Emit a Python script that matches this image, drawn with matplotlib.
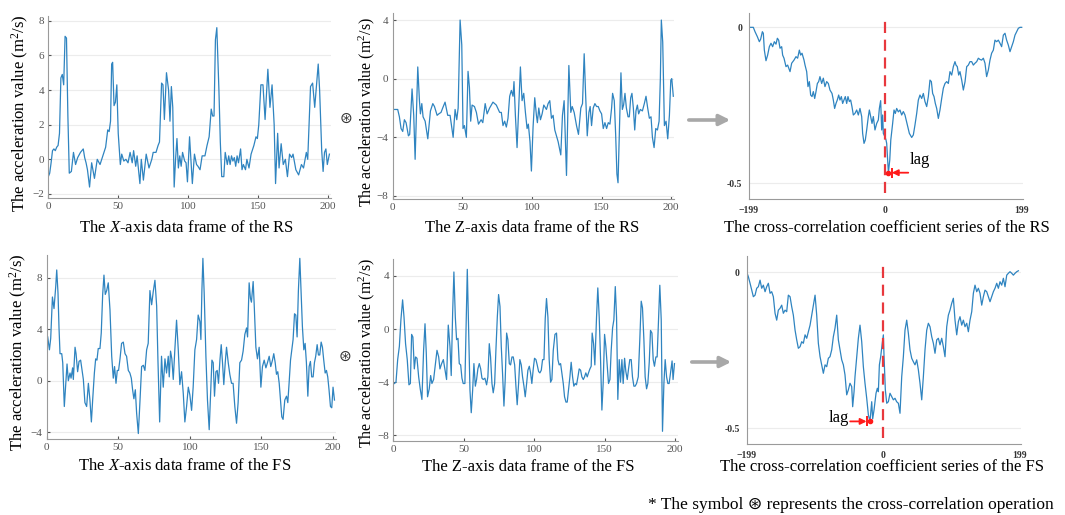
import numpy as np
import matplotlib
matplotlib.use("Agg")
import matplotlib.pyplot as plt
from matplotlib.patches import FancyArrowPatch

plt.rcParams['font.family'] = ['Liberation Serif', 'DejaVu Sans']
plt.rcParams['mathtext.fontset'] = 'custom'
plt.rcParams['mathtext.rm'] = 'Liberation Serif'
plt.rcParams['mathtext.it'] = 'Liberation Serif:italic'

# X-axis frame, RS (frame index, acceleration)
rs_x_t = [0, 1, 2, 3, 4, 5, 6, 7, 8, 9,
          10, 11, 12, 13, 14, 15, 16.5, 18, 19.5, 21,
          23, 25, 26, 27, 28, 29.5, 31, 33, 35, 37,
          39, 41, 42.5, 43.5, 44.5, 45.3, 46, 47, 48, 49,
          50, 51.5, 52.5, 54, 55.5, 57, 58.5, 60, 61, 62.5,
          63.5, 65.5, 66.5, 68, 70, 72, 74, 75, 77, 78.5,
          79.5, 81, 82, 83, 84.5, 86, 87, 88, 89, 90,
          91, 92, 93, 94, 95, 96, 97.5, 98.5, 99.5, 101,
          103, 104.5, 106, 107, 108.5, 110, 112, 113.5, 115, 116.5,
          117.5, 118.5, 119.5, 120.5, 122, 123, 124, 125.5, 126.5, 128,
          129, 130, 131, 132, 133, 134, 135, 136, 137.5, 138.5,
          139.5, 141, 142, 143.5, 145, 147, 148.5, 149.5, 150.5, 152,
          153.5, 155, 157, 158.5, 160, 161.5, 162.5, 164, 165, 166.5,
          168, 169.5, 171, 172.5, 174, 175, 177, 179, 181, 182.5,
          184.5, 185.5, 187.5, 189, 190.5, 193, 194, 195.5, 196.5, 197.5,
          198.5, 199.5, 201]
rs_x_a = [-1.0, -0.8, -0.2, 0.5, 0.6, 0.5, 0.7, 0.8, 1.5, 4.7,
          4.9, 4.3, 7.1, 7.0, 2.5, -0.8, -0.7, 0.4, -0.3, 0.1,
          0.4, 0.6, 0.1, -0.2, -0.6, -1.6, -0.2, -1.1, 0.0, -0.3,
          0.2, 0.7, 1.7, 1.6, 2.2, 5.5, 5.6, 3.1, 3.3, 4.3,
          1.5, -0.3, 0.3, -0.1, 0.0, -0.2, 0.4, -0.2, 0.5, -0.4,
          0.2, -1.4, 0.0, -1.2, 0.3, -0.5, 0.0, 0.4, 0.4, 0.8,
          1.0, 4.4, 4.3, 2.3, 5.0, 4.0, 2.2, 4.2, 3.0, -1.6,
          0.0, 1.2, -0.5, 0.2, -0.4, 0.4, -0.1, -0.2, -1.3, 1.3,
          -1.4, 0.3, -0.3, -0.4, -0.6, 0.2, 0.2, 0.8, 1.3, 2.9,
          2.5, 2.5, 6.9, 7.6, 4.0, 1.0, -1.0, -1.0, 0.4, -0.3,
          0.2, -0.3, 0.2, -0.1, 0.1, -0.4, 0.2, -0.2, 0.6, -0.6,
          -0.3, -0.6, 0.0, -0.5, 0.3, 0.8, 1.3, 1.2, 2.0, 4.3,
          4.3, 2.3, 5.2, 3.0, 4.3, 2.0, -1.4, 1.5, -0.5, 0.9,
          -0.3, 0.0, -1.0, 0.3, 0.1, 0.3, -0.6, -0.9, -0.3, -0.5,
          0.4, 0.0, 4.2, 4.4, 3.0, 5.5, 4.0, 0.5, -0.7, 0.4,
          0.6, -0.3, 0.3]

# Z-axis frame, RS
rs_z_t = [0.7, 3.6, 4.8, 6, 7.2, 8.4, 9.6, 11.3, 12.2, 13.9,
          15.1, 16.1, 18, 19.2, 19.9, 20.9, 21.8, 23.3, 25.2, 27.1,
          28.8, 30, 31.9, 33.1, 34.7, 35.9, 37.6, 39.5, 41.2, 43.4,
          44.8, 46, 47, 48.4, 49.6, 50.5, 51.5, 52.9, 54.1, 55.1,
          56, 57, 58.7, 60.1, 61.6, 63.5, 64.7, 66.4, 67.8, 69.6,
          72, 74.4, 76.8, 78, 79.2, 80.4, 81.6, 82.8, 84, 85.2,
          86.4, 87.1, 88.1, 89.3, 90.5, 91.7, 92.9, 94.1, 95.3, 96.5,
          97.4, 98.6, 99.6, 100.8, 102, 103.2, 103.9, 104.9, 106.1, 107.3,
          108.5, 110.4, 111.6, 112.8, 114, 115.2, 116.4, 118.8, 120.7, 121.9,
          123.1, 124.8, 126.5, 127.9, 128.9, 130.3, 132, 133.4, 135.1, 136.3,
          137.5, 138.5, 139.7, 140.9, 141.8, 142.8, 144, 145.2, 146.4, 147.6,
          148.8, 150, 151.2, 152.4, 153.6, 154.8, 156, 157.2, 157.9, 159.1,
          160.1, 161, 161.8, 162.7, 163.9, 164.9, 165.8, 166.8, 167.8, 169,
          169.9, 170.9, 171.8, 172.8, 173.8, 174.7, 175.7, 176.6, 177.8, 179.3,
          180.7, 181.9, 183.1, 184.3, 185.5, 186.5, 187.7, 188.9, 190.1, 191.3,
          192.2, 192.9, 193.9, 195.1, 196.3, 197.5, 198.7, 199.7, 200.4, 201.5]
rs_z_a = [-2.1, -2.1, -2.6, -3.4, -3.6, -2.8, -3.0, -3.9, -3.8, -0.7,
          -2.5, -5.5, 0.8, -1.5, -2.4, -1.7, -2.6, -2.9, -4.1, -2.2,
          -1.7, -1.9, -2.5, -2.4, -2.3, -2.0, -1.6, -2.5, -2.5, -4.0,
          -2.1, -2.8, -2.0, 4.0, 2.3, -3.4, -3.2, -4.0, 0.5, -0.6,
          -2.9, -1.8, -1.9, -2.3, -3.1, -2.8, -3.0, -1.7, -2.4, -2.0,
          -1.6, -1.8, -2.3, -2.3, -3.2, -2.9, -3.3, -2.7, -1.2, -0.8,
          -1.2, -0.2, -2.5, -4.7, -2.0, 0.8, -1.5, -1.0, -2.3, -3.4,
          -3.1, -4.3, -6.3, -3.3, -1.3, -2.5, -3.0, -2.0, -2.8, -2.4,
          -1.8, -2.1, -1.7, -1.5, -2.7, -2.5, -3.5, -4.3, -5.2, -2.5,
          -1.5, -6.6, 0.9, -2.3, -1.9, -2.3, -3.2, -3.8, -2.0, -1.7,
          1.7, -1.0, -3.9, -2.3, -1.9, -3.2, -2.0, -1.7, -1.9, -1.9,
          -2.2, -2.4, -3.4, -3.0, -3.4, -3.0, -3.1, -2.0, -1.0, -1.5,
          -3.8, -6.5, -7.1, -4.0, 0.4, -2.1, -1.8, -1.0, -2.0, -2.6,
          -2.6, -1.3, -1.0, -2.0, -3.5, -2.2, -1.8, -2.4, -2.1, -2.2,
          -1.7, -1.2, -2.0, -2.7, -2.6, -4.0, -4.7, -3.4, -3.5, -2.9,
          0.0, 4.0, 2.5, -3.2, -2.9, -4.1, -2.5, -0.1, 0.0, -1.2]

# cross-correlation coefficients, RS
rs_lag = [-199.0, -192.7, -190.2, -186.8, -183.9, -182.0, -179.5, -178.1, -176.6, -174.2,
          -171.8, -169.3, -166.9, -164.5, -162.0, -159.6, -157.6, -155.7, -153.7, -151.3,
          -149.9, -147.9, -145.0, -142.6, -139.1, -136.7, -133.3, -130.4, -128.0, -125.5,
          -123.6, -121.6, -118.7, -117.2, -114.8, -112.9, -110.9, -109.0, -107.0, -105.1,
          -103.1, -101.2, -99.2, -97.3, -95.4, -92.9, -90.5, -88.1, -85.6, -83.2,
          -80.8, -77.8, -75.9, -74.0, -72.0, -70.1, -68.1, -66.2, -64.2, -62.3,
          -60.3, -58.4, -56.4, -54.5, -52.5, -50.6, -48.7, -46.7, -44.3, -41.8,
          -39.4, -37.0, -34.5, -33.1, -31.1, -29.2, -27.2, -24.8, -23.3, -20.9,
          -19.4, -17.5, -15.1, -12.6, -10.2, -8.7, -6.8, -5.3, -3.9, -2.9,
          -0.5, 1.0, 2.0, 4.5, 6.5, 8.0, 10.7, 12.7, 14.6, 16.6,
          19.0, 21.4, 23.9, 26.3, 28.7, 32.1, 35.1, 38.5, 40.9, 43.3,
          45.8, 48.2, 50.6, 53.1, 55.5, 57.9, 60.4, 62.8, 65.2, 67.2,
          69.1, 71.1, 73.0, 75.0, 77.4, 79.8, 82.3, 84.7, 87.1, 89.6,
          92.0, 94.4, 96.9, 99.3, 101.7, 103.2, 105.1, 107.1, 109.0, 111.5,
          113.9, 116.4, 118.8, 121.2, 123.6, 126.1, 128.5, 130.9, 133.4, 135.8,
          138.2, 140.6, 143.1, 145.5, 147.9, 150.4, 152.8, 155.2, 157.7, 160.1,
          162.5, 165.0, 167.4, 169.8, 172.3, 174.7, 177.1, 179.6, 182.0, 184.4,
          186.9, 189.3, 191.7, 194.2, 196.6, 199.0]
rs_cc = [0.0, 0.0, -0.014, -0.030, -0.046, -0.038, -0.014, -0.019, -0.073, -0.107,
         -0.089, -0.062, -0.051, -0.062, -0.046, -0.054, -0.035, -0.041, -0.067, -0.062,
         -0.089, -0.099, -0.126, -0.121, -0.142, -0.115, -0.105, -0.094, -0.099, -0.073,
         -0.089, -0.083, -0.105, -0.121, -0.142, -0.190, -0.174, -0.217, -0.222, -0.206,
         -0.228, -0.206, -0.180, -0.174, -0.158, -0.180, -0.163, -0.190, -0.174, -0.180,
         -0.201, -0.212, -0.233, -0.260, -0.244, -0.233, -0.217, -0.233, -0.222, -0.244,
         -0.233, -0.222, -0.244, -0.222, -0.238, -0.233, -0.254, -0.281, -0.276, -0.265,
         -0.281, -0.260, -0.286, -0.340, -0.372, -0.361, -0.329, -0.286, -0.265, -0.292,
         -0.308, -0.286, -0.329, -0.308, -0.297, -0.260, -0.235, -0.329, -0.281, -0.340,
         -0.351, -0.361, -0.372, -0.466, -0.425, -0.361, -0.308, -0.265, -0.276, -0.260,
         -0.271, -0.265, -0.281, -0.270, -0.281, -0.313, -0.340, -0.353, -0.345, -0.313,
         -0.276, -0.233, -0.217, -0.228, -0.212, -0.238, -0.254, -0.222, -0.169, -0.174,
         -0.212, -0.222, -0.244, -0.260, -0.292, -0.265, -0.228, -0.195, -0.180, -0.174,
         -0.180, -0.142, -0.153, -0.126, -0.110, -0.121, -0.126, -0.153, -0.142, -0.169,
         -0.201, -0.174, -0.126, -0.121, -0.110, -0.110, -0.121, -0.115, -0.110, -0.099,
         -0.103, -0.105, -0.099, -0.115, -0.158, -0.137, -0.105, -0.083, -0.073, -0.041,
         -0.046, -0.041, -0.051, -0.062, -0.025, -0.019, -0.041, -0.057, -0.078, -0.062,
         -0.046, -0.025, -0.014, -0.003, 0.0, 0.0]

# X-axis frame, FS
fs_x_t = [0.7, 1.9, 2.8, 4.0, 5.1, 6.3, 7.0, 7.9, 8.6, 9.3,
          10.5, 11.2, 12.3, 13.3, 14.2, 15.1, 16.3, 17.0, 18.1, 18.6,
          19.8, 20.5, 21.6, 22.6, 23.7, 24.7, 25.6, 26.7, 27.9, 29.1,
          30.2, 31.2, 32.1, 33.3, 34.2, 35.1, 36.0, 37.2, 38.1, 39.1,
          40.0, 40.9, 41.9, 43.0, 44.2, 45.4, 46.5, 47.4, 48.4, 49.3,
          50.2, 51.2, 52.3, 53.5, 54.7, 55.8, 57.0, 58.1, 59.1, 60.0,
          60.9, 61.9, 62.8, 64.0, 65.1, 66.3, 67.5, 68.6, 69.8, 70.9,
          72.1, 73.3, 74.4, 75.6, 76.8, 77.7, 78.9, 80.2, 81.4, 82.6,
          83.7, 84.9, 85.6, 86.5, 87.4, 88.4, 89.5, 90.7, 91.9, 93.0,
          94.2, 95.4, 96.5, 97.7, 98.9, 100.0, 101.2, 102.3, 103.5, 104.7,
          105.8, 107.0, 107.7, 108.4, 109.1, 110.0, 111.2, 112.3, 113.5, 114.4,
          115.4, 116.3, 117.2, 118.2, 119.1, 120.0, 121.0, 121.9, 122.8, 123.7,
          124.7, 125.6, 126.8, 127.9, 129.1, 130.2, 131.4, 132.6, 133.7, 134.9,
          136.1, 137.2, 138.4, 139.6, 140.3, 141.4, 142.3, 143.0, 144.2, 144.9,
          146.1, 147.2, 148.4, 149.6, 150.7, 151.9, 153.1, 154.2, 155.4, 156.5,
          157.7, 158.6, 159.6, 160.5, 161.4, 162.4, 163.3, 164.2, 165.1, 166.3,
          167.5, 168.4, 169.3, 170.3, 171.2, 172.1, 173.1, 174.0, 174.9, 175.8,
          176.8, 177.7, 178.6, 179.6, 180.5, 181.4, 182.4, 183.3, 184.2, 185.1,
          186.1, 187.0, 187.9, 188.9, 189.8, 190.7, 191.7, 192.6, 193.5, 194.5,
          195.4, 196.3, 197.2, 198.2, 199.1, 200.0, 201.0]
fs_x_a = [3.4, 2.4, 3.3, 6.5, 5.6, 7.3, 8.6, 6.8, 4.1, 2.1,
          2.1, 1.4, -2.0, -0.2, 1.3, 0.0, 0.6, 0.2, 1.0, 0.1,
          2.6, 2.1, 0.7, 1.5, 1.6, 0.8, 0.1, -1.7, -2.0, -0.2,
          -1.5, -3.2, -1.5, 0.6, 1.7, 1.6, 2.5, 2.5, 3.7, 6.7,
          8.2, 6.7, 7.0, 7.6, 5.5, 1.9, 0.2, 1.1, -0.2, 0.8,
          0.8, 1.7, 2.9, 3.0, 2.1, 1.9, 0.8, 0.6, 0.2, -0.7,
          -1.4, -0.7, -2.5, -4.1, -1.7, 1.1, 1.2, 0.8, 2.4, 2.9,
          7.0, 5.9, 6.9, 7.8, 5.8, 1.6, -3.2, 1.9, -0.5, 1.7,
          0.6, 1.9, 0.3, 2.3, 1.7, 0.1, 2.4, 4.7, 2.4, -0.3,
          0.7, -1.0, -3.2, -2.0, -0.5, -1.1, -2.3, -0.5, 2.4, 3.2,
          5.1, 4.6, 3.2, 7.0, 9.5, 6.8, 1.9, -1.5, -3.8, -1.2,
          1.6, 1.4, -1.2, 0.7, 0.8, -0.2, 1.6, 2.8, 1.4, -0.3,
          1.4, 2.6, 1.4, 0.5, -0.2, -0.2, -2.0, -3.3, -1.7, 1.4,
          1.6, 2.3, 3.6, 4.1, 3.4, 7.6, 6.4, 6.1, 7.7, 6.0,
          2.6, 1.7, 2.6, -0.5, 1.1, 1.6, 1.0, 1.4, 1.9, 1.1,
          1.6, 2.1, 1.4, 0.5, 0.7, -0.2, -1.5, -2.8, -3.0, -1.5,
          -1.2, -1.7, -0.2, 1.6, 2.4, 3.2, 5.2, 5.1, 3.4, 7.0,
          9.5, 6.8, 4.2, 2.4, 2.9, 1.4, -1.2, 1.1, 1.5, 0.3,
          0.3, 1.4, 1.9, 2.8, 2.0, 2.0, 3.0, 2.6, 1.6, 0.6,
          0.8, 0.3, -0.7, -2.0, -2.1, -0.5, -1.5]

# Z-axis frame, FS
fs_z_t = [0.7, 1.9, 3.1, 4.3, 5.4, 6.6, 7.6, 8.7, 9.9, 11.1,
          12.1, 13.0, 13.9, 14.9, 15.8, 16.8, 18.0, 19.1, 20.3, 21.5,
          22.5, 23.4, 24.3, 25.5, 26.5, 27.4, 28.6, 29.8, 31.0, 32.2,
          33.1, 34.3, 35.5, 36.6, 37.8, 39.0, 40.2, 41.1, 42.1, 43.0,
          44.0, 44.9, 45.9, 46.8, 47.8, 48.7, 49.6, 50.8, 51.8, 52.5,
          53.4, 54.4, 55.3, 56.3, 57.2, 58.2, 59.1, 60.0, 61.0, 62.0,
          62.9, 63.8, 65.0, 66.2, 67.1, 68.1, 69.0, 70.0, 70.9, 71.9,
          72.8, 73.8, 74.7, 75.7, 76.6, 77.5, 78.5, 79.4, 80.4, 81.3,
          82.3, 83.2, 84.2, 85.1, 86.1, 87.0, 87.9, 88.9, 89.8, 90.8,
          91.7, 92.7, 93.6, 94.6, 95.5, 96.5, 97.4, 98.3, 99.3, 100.2,
          101.2, 102.1, 103.1, 104.0, 105.0, 105.9, 106.9, 107.8, 108.7, 109.7,
          110.6, 111.6, 112.5, 113.5, 114.7, 115.8, 116.8, 117.7, 118.7, 119.6,
          120.6, 121.5, 122.5, 123.4, 124.3, 125.3, 126.2, 127.2, 128.1, 129.1,
          130.0, 131.0, 131.9, 132.9, 133.8, 134.8, 135.7, 136.6, 137.6, 138.5,
          139.5, 140.4, 141.1, 142.1, 143.0, 144.2, 145.1, 146.1, 147.0, 148.0,
          148.9, 149.9, 150.8, 151.8, 152.7, 153.7, 154.6, 155.6, 156.5, 157.5,
          158.4, 159.3, 160.3, 161.2, 162.2, 163.1, 164.1, 165.0, 166.0, 166.9,
          167.8, 168.8, 169.7, 170.7, 171.6, 172.6, 173.8, 174.9, 175.9, 176.8,
          177.8, 178.7, 179.7, 180.6, 181.6, 182.5, 183.5, 184.4, 185.3, 186.3,
          187.2, 188.2, 189.1, 190.1, 191.0, 192.0, 192.9, 193.9, 194.8, 195.7,
          196.8, 197.8, 198.5, 199.5]
fs_z_a = [-4.1, -4.0, -2.3, -1.3, 0.7, 2.2, 0.9, -1.1, -2.3, -4.2,
          -4.1, -0.4, -0.6, -3.0, -2.1, -2.2, -3.6, -4.5, -5.3, -1.6,
          0.4, -1.8, -5.1, -4.5, -3.5, -4.1, -3.8, -2.7, -1.6, -2.1,
          -3.0, -2.6, -2.3, -3.0, -3.8, 0.3, -1.3, -3.5, 1.2, 4.3,
          0.9, -0.8, -0.7, -2.6, -2.7, -3.7, -4.1, -4.1, 0.9, 4.5,
          0.2, -4.6, -6.3, -4.6, -2.6, -4.3, -3.8, -3.0, -2.6, -3.0,
          -3.7, -3.8, -3.7, -4.2, -3.6, -1.1, -2.1, -4.1, -4.8, -4.1,
          -1.6, 0.9, 2.6, 1.7, -1.3, -3.3, -5.8, -3.8, -0.3, -0.8,
          -2.6, -2.7, -2.1, -2.1, -2.7, -4.3, -5.7, -4.1, -2.3, -2.7,
          -3.6, -4.3, -5.1, -4.1, -3.1, -2.8, -3.3, -4.1, -3.0, -2.2,
          -2.3, -2.7, -3.2, -3.3, -3.1, -2.3, -2.3, 0.8, 2.3, 0.9,
          -2.3, -4.0, -3.8, -1.6, -0.4, -0.3, -2.3, -2.7, -2.6, -3.3,
          -4.1, -5.1, -5.5, -5.5, -4.6, -3.6, -2.5, -3.6, -4.3, -4.1,
          -4.2, -3.6, -3.0, -3.1, -3.6, -3.8, -3.6, -3.3, -3.6, -3.3,
          -3.0, -2.8, -0.3, -1.1, -2.7, 0.9, 3.1, 0.9, -2.1, -6.1,
          -4.1, -0.4, -1.3, -2.8, -4.1, -3.8, -1.6, 0.1, 0.7, 3.2,
          0.9, -5.3, -2.3, -4.0, -2.3, -4.1, -2.2, -3.2, -3.8, -3.0,
          -2.3, -2.3, -3.6, -4.3, -4.3, -4.1, -3.6, -0.8, 2.1, 1.6,
          -0.8, -3.6, -4.5, -4.1, -2.5, -0.1, -0.3, -2.3, -2.8, -2.1,
          -2.1, 0.7, 3.3, 0.7, -7.7, -4.1, -2.3, -3.6, -4.1, -4.1,
          -3.2, -2.4, -3.8, -2.6]

# cross-correlation coefficients, FS
fs_lag = [-199.0, -196.6, -194.1, -191.7, -189.3, -186.8, -184.4, -182.0, -179.5, -177.1,
          -174.7, -172.2, -169.8, -167.4, -164.9, -162.5, -160.1, -157.6, -155.2, -152.8,
          -150.3, -147.9, -145.5, -143.0, -140.6, -138.2, -135.7, -133.3, -130.9, -128.4,
          -126.0, -123.6, -121.1, -118.7, -116.3, -113.8, -111.4, -109.0, -106.5, -104.1,
          -101.7, -99.2, -96.8, -94.4, -91.9, -89.5, -87.1, -84.6, -82.2, -79.8,
          -77.4, -74.9, -72.5, -70.1, -67.6, -65.2, -62.8, -60.3, -57.9, -55.5,
          -53.0, -50.6, -48.2, -45.7, -44.3, -42.3, -40.9, -38.4, -36.0, -33.6,
          -31.1, -28.7, -26.3, -23.8, -21.4, -19.0, -16.5, -15.1, -13.1, -10.2,
          -8.3, -6.8, -5.3, -3.4, -1.4, 0.5, 1.5, 3.4, 5.4, 7.8,
          10.2, 12.7, 15.1, 17.5, 19.9, 22.4, 24.8, 27.3, 29.7, 32.1,
          34.6, 37.0, 39.4, 41.9, 44.3, 46.7, 49.2, 51.6, 54.0, 56.5,
          58.9, 61.3, 63.8, 66.2, 68.6, 71.1, 73.5, 75.9, 78.4, 80.8,
          83.2, 85.7, 88.1, 90.5, 93.0, 95.4, 97.8, 100.3, 102.7, 105.1,
          107.6, 110.0, 112.4, 114.9, 117.3, 119.7, 122.2, 124.6, 127.0, 129.5,
          131.9, 134.3, 136.8, 139.2, 141.6, 144.1, 146.5, 148.9, 151.4, 153.8,
          156.2, 158.7, 161.1, 163.5, 166.0, 168.4, 170.8, 173.3, 175.7, 178.1,
          180.6, 183.0, 185.4, 187.9, 190.3, 192.7, 195.2, 197.6]
fs_cc = [0.0, -0.015, -0.036, -0.058, -0.079, -0.074, -0.052, -0.047, -0.026, -0.052,
         -0.042, -0.063, -0.047, -0.036, -0.068, -0.063, -0.079, -0.132, -0.154, -0.122,
         -0.116, -0.106, -0.132, -0.122, -0.127, -0.074, -0.079, -0.111, -0.138, -0.186,
         -0.217, -0.244, -0.239, -0.223, -0.228, -0.201, -0.212, -0.191, -0.170, -0.138,
         -0.106, -0.074, -0.138, -0.228, -0.271, -0.297, -0.324, -0.297, -0.303, -0.276,
         -0.271, -0.249, -0.207, -0.180, -0.138, -0.217, -0.249, -0.281, -0.297, -0.329,
         -0.393, -0.377, -0.356, -0.367, -0.431, -0.383, -0.335, -0.271, -0.212, -0.170,
         -0.223, -0.303, -0.356, -0.404, -0.457, -0.478, -0.415, -0.470, -0.441, -0.388,
         -0.372, -0.383, -0.297, -0.271, -0.233, -0.201, -0.271, -0.377, -0.420, -0.415,
         -0.388, -0.399, -0.409, -0.404, -0.415, -0.420, -0.452, -0.335, -0.271, -0.186,
         -0.154, -0.196, -0.249, -0.276, -0.287, -0.297, -0.281, -0.313, -0.356, -0.409,
         -0.335, -0.249, -0.186, -0.164, -0.175, -0.207, -0.228, -0.260, -0.217, -0.212,
         -0.233, -0.212, -0.239, -0.271, -0.175, -0.138, -0.122, -0.100, -0.084, -0.154,
         -0.201, -0.159, -0.143, -0.170, -0.154, -0.175, -0.164, -0.191, -0.154, -0.127,
         -0.068, -0.042, -0.063, -0.052, -0.068, -0.106, -0.079, -0.058, -0.063, -0.079,
         -0.095, -0.079, -0.063, -0.052, -0.036, -0.052, -0.031, -0.042, -0.020, -0.047,
         -0.010, -0.004, 0.001, -0.004, -0.010, -0.004, 0.001, 0.004]

frame_ticks = [0, 50, 100, 150, 200]
lag_ticks = [-199, 0, 199]
ylab = 'The acceleration value (m$^2$/s)'

W, H = 1065, 515
line_c = '#2f84c0'


def box(l, t, r, b):
    # pixel box -> figure fraction rect
    return [l / W, 1 - b / H, (r - l) / W, (b - t) / H]


def style(ax, yticks, corr=False):
    for s in ('top', 'right'):
        ax.spines[s].set_visible(False)
    for s in ('left', 'bottom'):
        ax.spines[s].set_color('#9a9a9a')
        ax.spines[s].set_linewidth(0.8)
    ax.set_yticks(yticks)
    ax.grid(axis='y', color='#ececec', lw=0.8)
    ax.set_axisbelow(True)
    if corr:
        ax.tick_params(direction='in', length=0, labelsize=7, colors='#333333', pad=5)
        for lb in ax.get_xticklabels() + ax.get_yticklabels():
            lb.set_fontweight('bold')
    else:
        ax.tick_params(direction='in', length=2, labelsize=8, colors='#555555', pad=3)


fig = plt.figure(figsize=(W / 100, H / 100), dpi=100)

ax1 = fig.add_axes(box(48.3, 16.4, 330.8, 198.3))
ax1.plot(rs_x_t, rs_x_a, color=line_c, lw=0.9)
ax1.set_xlim(0, 202)
ax1.set_ylim(-2.25, 8.25)
ax1.set_xticks(frame_ticks)
style(ax1, [-2, 0, 2, 4, 6, 8])

ax2 = fig.add_axes(box(392.7, 12.7, 674.0, 198.9))
ax2.plot(rs_z_t, rs_z_a, color=line_c, lw=0.9)
ax2.set_xlim(0, 202)
ax2.set_ylim(-8.2, 4.5)
ax2.set_xticks(frame_ticks)
style(ax2, [-8, -4, 0, 4])

ax4 = fig.add_axes(box(46.7, 254.5, 335.9, 438.7))
ax4.plot(fs_x_t, fs_x_a, color=line_c, lw=0.9)
ax4.set_xlim(0, 202)
ax4.set_ylim(-4.5, 9.8)
ax4.set_xticks(frame_ticks)
style(ax4, [-4, 0, 4, 8])

ax5 = fig.add_axes(box(393.3, 258.7, 678.0, 440.6))
ax5.plot(fs_z_t, fs_z_a, color=line_c, lw=0.9)
ax5.set_xlim(0, 202)
ax5.set_ylim(-8.4, 5.3)
ax5.set_xticks(frame_ticks)
style(ax5, [-8, -4, 0, 4])

corr_axes = []
for rect, lag, cc, ylim, side in [
        (box(749.0, 13.3, 1023.0, 198.9), rs_lag, rs_cc, (-0.55, 0.045), 1),
        (box(746.7, 256.4, 1020.7, 443.9), fs_lag, fs_cc, (-0.55, 0.05), -1)]:
    ax = fig.add_axes(rect)
    ax.plot(lag, cc, color=line_c, lw=0.9)
    ax.set_xlim(-199, 201)
    ax.set_ylim(*ylim)
    ax.set_xticks(lag_ticks)
    ax.set_yticks([-0.5, 0])
    ax.set_yticklabels(['-0.5', '0'])
    style(ax, [-0.5, 0], corr=True)
    ax.vlines(0, ylim[0] + 0.02, 0.02, colors='#e8383d', linestyles=(0, (5, 3)), lw=1.6)

    # mark the peak lag
    i = int(np.argmin(cc))
    pl, pv = lag[i], cc[i]
    ax.plot(pl, pv, 'o', color='#ff1a1a', ms=3, zorder=5)
    tip = pl + side * 5
    ax.annotate('', xy=(tip, pv), xytext=(pl + side * 29, pv),
                arrowprops=dict(arrowstyle='-|>', color='#ff1a1a', lw=1.3,
                                mutation_scale=9, shrinkA=0, shrinkB=0))
    ax.plot(tip, pv, marker='|', color='#ff1a1a', ms=7, mew=1.4)
    if side > 0:
        ax.text(pl + 31, pv + 0.042, 'lag', fontsize=12, ha='left', va='center')
    else:
        ax.text(pl - 60, pv + 0.012, 'lag', fontsize=12, ha='left', va='center')
    corr_axes.append(ax)


def ftext(x, y, s, **kw):
    fig.text(x / W, 1 - y / H, s, ha='center', va='center', **kw)


ftext(187, 228, 'The $X$-axis data frame of the RS', fontsize=12)
ftext(532, 228, 'The Z-axis data frame of the RS', fontsize=12)
ftext(887, 228, 'The cross-correlation coefficient series of the RS', fontsize=12)
ftext(185, 466, 'The $X$-axis data frame of the FS', fontsize=12)
ftext(528, 467, 'The Z-axis data frame of the FS', fontsize=12)
ftext(882, 467, 'The cross-correlation coefficient series of the FS', fontsize=12)

ftext(20, 113, ylab, fontsize=12, rotation=90)
ftext(367, 112, ylab, fontsize=11.5, rotation=90)
ftext(18, 352, ylab, fontsize=12, rotation=90)
ftext(367, 353, ylab, fontsize=11.5, rotation=90)

ftext(346, 118, '\u229b', fontsize=11, family='DejaVu Sans', color='#333333')
ftext(345, 356, '\u229b', fontsize=11, family='DejaVu Sans', color='#333333')

for x0, x1, y in [(686, 733, 120), (689, 734, 362)]:
    fig.add_artist(FancyArrowPatch((x0 / W, 1 - y / H), (x1 / W, 1 - y / H),
                                   transform=fig.transFigure, arrowstyle='-|>',
                                   mutation_scale=16, lw=2.6, color='#a8a8a8'))

ftext(851, 505, '* The symbol \u229b represents the cross-correlation operation', fontsize=12.5)

fig.savefig('out.png', dpi=100)
